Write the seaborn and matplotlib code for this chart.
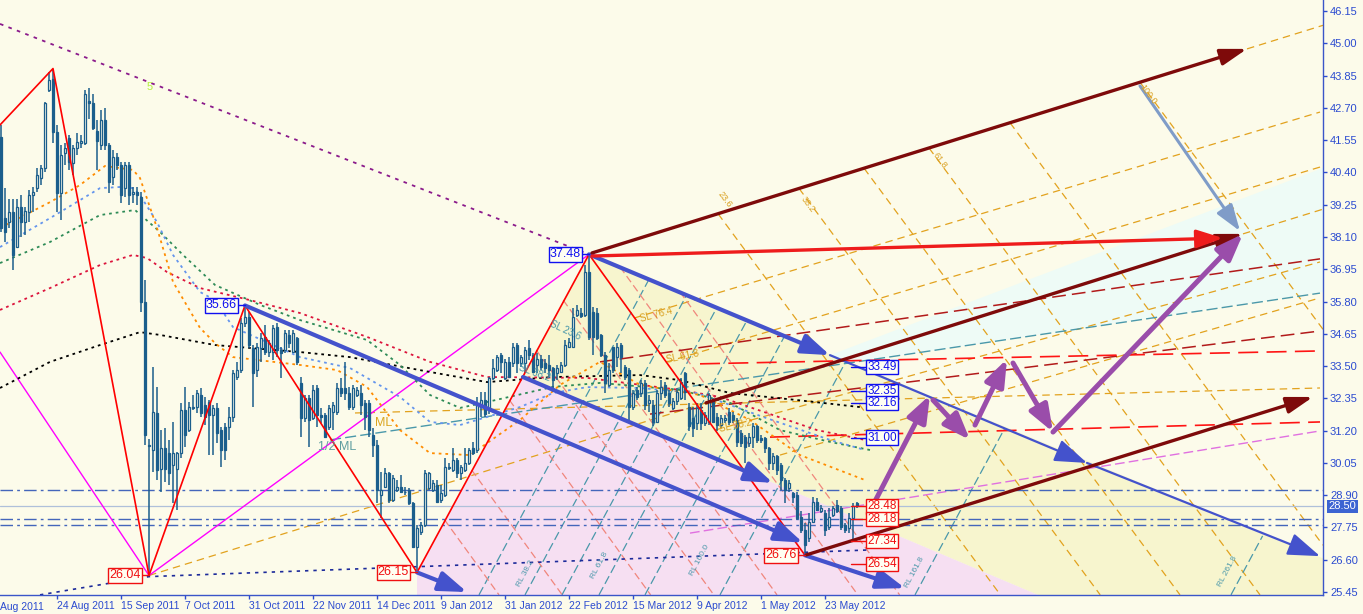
import numpy as np
import pandas as pd
import matplotlib
matplotlib.use("Agg")
import matplotlib.pyplot as plt
import seaborn as sns
from matplotlib.patches import Polygon

# ---------------- DATA (x = trading-bar index, y = price) ----------------
opens = [41.67, 38.76, 38.64, 39.00, 37.75, 39.18, 38.64, 39.00, 39.59, 39.83,
         40.19, 40.54, 43.33, 43.73, 41.85, 39.65, 41.08, 41.61, 40.72, 41.26,
         41.43, 41.43, 42.94, 42.89, 41.87, 41.37, 42.26, 41.37, 40.25, 40.96,
         40.66, 39.83, 40.66, 39.62, 39.71, 39.53, 35.79, 30.69, 30.51, 31.82,
         29.85, 30.57, 30.39, 29.97, 29.85, 30.39, 31.93, 31.22, 31.99, 32.05,
         32.47, 32.11, 32.23, 31.76,
         31.99, 31.22, 31.34, 31.34, 31.70, 33.12, 33.36, 35.02, 35.26, 34.13,
         33.36, 34.13, 34.55, 34.01, 34.01, 34.90, 34.07, 34.07, 34.61, 34.01,
         34.49, 32.88, 31.64, 32.35, 31.64, 32.71, 31.76, 31.76, 31.34, 31.87,
         31.87, 32.71, 32.71, 32.53, 32.05, 32.47, 32.53, 32.17, 32.17, 31.04,
         30.69, 28.91, 29.20, 29.68, 28.73, 29.09, 29.20, 29.03, 29.09, 28.61,
         27.07, 27.60, 27.84, 29.14,
         29.08, 29.26, 28.73, 28.91, 29.86, 29.80, 30.15, 29.68, 29.80, 30.03, 30.57, 30.51,
         32.05, 32.29, 31.93, 33.06, 33.36, 33.89, 33.06, 33.66, 33.60, 34.25,
         33.60, 33.60, 34.13, 33.89, 33.54, 33.77, 33.60, 33.54, 33.42, 33.24,
         33.30, 33.54, 34.19, 34.19, 35.32, 35.38, 35.32, 36.86, 35.44, 35.38,
         34.61, 33.89, 32.82, 34.19, 33.83, 34.25, 33.48, 33.36,
         32.06, 32.65, 32.53, 32.89, 32.20, 32.12, 31.52, 32.53, 32.83, 32.53,
         32.00, 32.24, 32.35, 33.25, 32.06, 31.64, 31.46, 31.94, 31.46, 31.52,
         32.30, 31.70, 31.40, 31.58, 31.88, 31.76, 31.58, 31.11, 30.99, 30.75,
         30.99, 31.35, 30.93, 30.93, 30.57, 30.04, 30.28, 29.98, 29.45, 29.15,
         28.97, 28.91, 28.14, 27.66, 27.37, 27.96, 28.67, 28.32, 28.26, 27.78,
         28.20, 28.55, 28.44, 27.84, 27.72, 28.08, 28.61]
highs = [42.09, 39.83, 39.47, 39.47, 39.47, 39.59, 39.18, 39.77, 39.89, 40.54,
         40.66, 42.92, 43.99, 44.10, 42.09, 41.37, 41.43, 41.73, 41.37, 41.79,
         41.73, 43.33, 43.39, 43.21, 42.26, 42.62, 42.68, 41.43, 41.20, 41.08,
         40.78, 40.78, 40.78, 39.89, 39.89, 39.71, 36.56, 30.92, 33.48, 32.77,
         31.22, 31.28, 30.86, 31.52, 30.45, 32.17, 32.77, 32.23, 32.47, 32.65,
         32.71, 32.41, 32.29, 32.11,
         32.17, 31.34, 31.46, 32.05, 33.36, 33.66, 35.20, 35.66, 35.44, 34.25,
         34.31, 34.67, 34.96, 34.43, 34.96, 35.02, 34.19, 34.79, 34.79, 34.79,
         34.55, 33.12, 32.47, 32.47, 32.83, 32.83, 31.99, 31.82, 32.11, 32.23,
         32.88, 33.06, 33.66, 32.77, 32.83, 32.77, 32.83, 32.29, 32.29, 31.28,
         30.87, 29.74, 29.86, 29.74, 29.62, 29.44, 29.62, 29.20, 29.14, 28.67,
         27.84, 27.96, 29.80, 29.74,
         29.44, 29.44, 29.26, 30.21, 30.03, 30.57, 30.21, 29.97, 30.57, 30.57, 30.81, 32.41,
         32.59, 32.59, 33.12, 33.77, 33.89, 33.95, 33.77, 33.83, 34.31, 34.31,
         33.89, 34.19, 34.43, 33.95, 33.95, 33.89, 33.77, 33.89, 33.48, 33.54,
         33.66, 34.43, 34.49, 35.56, 35.67, 35.56, 37.10, 37.48, 35.62, 35.56,
         34.66, 34.01, 33.60, 34.19, 34.31, 34.31, 33.54, 33.42,
         32.65, 32.77, 33.01, 33.01, 32.47, 32.30, 32.65, 33.01, 32.95, 32.65,
         32.35, 32.71, 33.07, 33.30, 32.18, 32.06, 32.18, 32.18, 31.88, 32.53,
         32.35, 31.82, 31.76, 31.76, 32.00, 31.88, 31.64, 31.23, 31.05, 31.11,
         31.46, 31.40, 31.05, 30.99, 30.63, 30.40, 30.34, 30.04, 29.50, 29.45,
         29.03, 29.03, 28.32, 27.90, 28.26, 28.85, 28.79, 28.55, 28.38, 28.44,
         28.50, 28.73, 28.50, 27.90, 28.26, 28.61, 28.67]
lows = [38.29, 37.93, 38.41, 36.92, 37.69, 38.11, 38.17, 38.64, 39.00, 39.71,
        39.95, 40.42, 43.27, 41.43, 39.00, 38.70, 40.66, 40.48, 40.31, 41.02,
        41.26, 41.37, 42.32, 41.91, 40.48, 41.20, 41.20, 39.65, 39.95, 40.48,
        39.30, 39.53, 39.24, 39.30, 39.24, 35.44, 30.69, 26.04, 29.74, 29.44,
        29.02, 29.38, 29.26, 28.61, 28.37, 30.21, 30.63, 31.16, 31.93, 31.82,
        31.70, 31.40, 30.33, 30.33,
        30.75, 29.92, 30.15, 30.87, 31.52, 33.00, 33.24, 34.90, 34.13, 32.05,
        33.12, 33.66, 33.89, 33.84, 33.72, 33.84, 33.06, 33.95, 34.13, 33.95,
        33.54, 30.98, 31.52, 30.63, 31.58, 31.34, 31.46, 30.93, 31.22, 31.22,
        31.76, 32.41, 32.29, 31.93, 31.93, 32.41, 31.76, 31.22, 30.98, 30.27,
        28.61, 28.08, 29.14, 28.61, 28.67, 29.03, 28.97, 28.91, 28.55, 27.01,
        26.15, 27.48, 27.78, 29.09,
        29.02, 28.61, 28.61, 28.85, 29.80, 29.74, 29.50, 29.44, 29.74, 29.97, 30.33, 30.39,
        31.70, 31.70, 31.80, 33.00, 33.30, 33.24, 33.00, 33.06, 33.48, 33.24,
        33.48, 33.24, 33.72, 33.24, 33.24, 33.36, 33.24, 33.06, 32.59, 33.00,
        33.24, 33.48, 34.13, 34.13, 35.26, 35.20, 35.26, 34.43, 33.89, 34.43,
        33.83, 32.53, 32.77, 33.24, 33.48, 33.24, 33.00, 31.58,
        31.94, 32.30, 32.41, 31.94, 31.88, 31.35, 31.46, 32.30, 32.35, 32.06,
        31.94, 32.12, 32.30, 32.30, 31.17, 30.99, 31.23, 31.23, 31.35, 31.40,
        31.46, 31.17, 31.29, 31.46, 31.40, 31.46, 30.63, 30.63, 30.04, 30.63,
        30.57, 30.75, 30.75, 30.40, 29.80, 29.80, 29.62, 29.09, 28.61, 29.03,
        28.61, 28.02, 27.55, 26.76, 27.25, 27.90, 28.32, 28.26, 27.43, 27.66,
        28.14, 28.26, 27.66, 27.55, 27.55, 27.25, 28.44]
closes = [38.41, 38.29, 39.00, 37.45, 39.18, 38.64, 39.02, 39.59, 39.71, 40.31,
          40.54, 42.86, 43.69, 41.83, 39.65, 41.02, 41.28, 40.78, 41.26, 41.49,
          41.52, 43.21, 42.89, 41.97, 41.52, 42.26, 41.37, 40.07, 40.96, 40.66,
          39.59, 40.66, 39.59, 39.71, 39.59, 35.79, 31.04, 30.66, 31.87, 29.80,
          30.57, 29.85, 29.68, 30.39, 30.39, 31.93, 31.04, 32.05, 32.05, 32.53,
          31.82, 31.70, 31.76, 31.99,
          31.10, 30.51, 30.51, 31.70, 33.24, 33.36, 35.02, 35.26, 34.25, 33.24,
          34.19, 34.49, 34.01, 34.31, 34.84, 34.07, 33.95, 34.67, 34.31, 34.67,
          33.66, 31.64, 32.35, 31.58, 32.65, 31.76, 31.70, 30.98, 31.99, 32.11,
          32.71, 32.53, 32.53, 32.05, 32.71, 32.65, 32.11, 31.70, 31.22, 30.69,
          29.09, 29.09, 29.68, 28.73, 29.50, 29.20, 29.03, 29.00, 28.61, 27.07,
          27.72, 27.84, 29.68, 29.68,
          29.32, 28.67, 28.97, 29.92, 29.92, 30.15, 29.68, 29.92, 30.03, 30.51, 30.39, 32.17,
          32.29, 31.81, 33.06, 33.42, 33.83, 33.66, 33.66, 33.12, 34.19, 33.60,
          33.83, 34.07, 33.89, 33.30, 33.77, 33.48, 33.42, 33.36, 33.00, 33.42,
          33.54, 34.25, 34.37, 35.26, 35.50, 35.28, 36.86, 34.55, 34.55, 34.49,
          33.89, 32.88, 33.36, 33.36, 34.19, 33.83, 33.12, 32.05,
          32.53, 32.41, 32.89, 32.12, 32.30, 31.52, 32.53, 32.77, 32.47, 32.18,
          32.24, 32.59, 32.95, 32.59, 31.35, 31.29, 32.00, 31.46, 31.76, 32.47,
          31.52, 31.40, 31.64, 31.64, 31.52, 31.58, 30.81, 30.75, 30.63, 30.99,
          31.35, 30.87, 30.87, 30.57, 30.04, 30.28, 29.80, 29.45, 29.09, 29.33,
          28.85, 28.08, 27.66, 27.13, 27.96, 28.67, 28.38, 28.44, 27.66, 28.14,
          28.44, 28.32, 27.78, 27.66, 28.08, 28.50, 28.50]

date_ticks = [14, 30, 46, 62, 78, 94, 110, 126, 142, 158, 174, 190, 206]
date_labels = ["24 Aug 2011", "15 Sep 2011", "7 Oct 2011", "31 Oct 2011", "22 Nov 2011",
               "14 Dec 2011", "9 Jan 2012", "31 Jan 2012", "22 Feb 2012", "15 Mar 2012",
               "9 Apr 2012", "1 May 2012", "23 May 2012"]
first_label = "Aug 2011"
price_ticks = [46.15, 45.00, 43.85, 42.70, 41.55, 40.40, 39.25, 38.10, 36.95, 35.80,
               34.65, 33.50, 32.35, 31.20, 30.05, 28.90, 27.75, 26.60, 25.45]
last_price = 28.50

# moving averages
ma_orange = [(-0.25, 38.42), (12.25, 39.34), (19.75, 39.95), (26, 40.63), (33, 40.49), (34.75, 40.20),
             (39, 38.42), (43, 36.50), (49.75, 34.86), (53.5, 34.32), (58, 33.82), (74.75, 33.54),
             (84, 33.36), (91.5, 32.76), (99.75, 31.22), (107.25, 30.40), (117.25, 30.33),
             (129.75, 31.58), (139.75, 32.83), (149.75, 33.65), (159.75, 32.83), (174.75, 32.47),
             (187.25, 31.58), (199.75, 30.33), (216, 29.44)]
ma_blue = [(-0.25, 37.74), (12.25, 38.77), (24.75, 39.84), (29.75, 39.88), (33, 39.84), (34.75, 39.59),
           (39, 38.63), (43, 37.46), (49.75, 36.14), (53.5, 35.85), (58, 34.89), (74.75, 33.82),
           (87.25, 33.43), (99.75, 32.40), (107.25, 31.51), (114.75, 31.40), (129.75, 32.04),
           (138, 32.54), (146.5, 32.75), (159.75, 32.72), (174, 32.54), (190.5, 31.69),
           (207.25, 30.87), (216, 30.51)]
ma_green = [(-0.25, 37.17), (12.25, 37.92), (24.75, 38.88), (33.5, 39.06), (39.75, 38.28), (45.5, 37.46),
            (53.5, 36.39), (64.75, 35.68), (74.75, 35.14), (91.5, 34.43), (99.75, 33.54), (107.25, 32.47),
            (114.75, 32.01), (121.5, 32.22), (138, 32.76), (149.75, 32.90), (169.75, 32.65),
            (182.25, 32.19), (194.75, 31.22), (207.25, 30.80), (217.25, 30.51)]
ma_crimson = [(-0.25, 35.50), (12.25, 36.28), (24.75, 37.10), (33, 37.46), (36.5, 37.35), (41.5, 36.85),
              (49.75, 36.28), (62.25, 35.85), (74.75, 35.39), (91.5, 34.54), (107.25, 33.65),
              (121.5, 33.11), (146.5, 33.08), (169.75, 32.65), (179.75, 32.40), (204, 31.22), (216, 30.87)]
ma_black = [(-0.25, 32.72), (12.25, 33.65), (24.75, 34.25), (34.75, 34.71), (39.75, 34.61), (53.5, 34.25),
            (74.75, 34.00), (87.25, 33.82), (107.25, 33.29), (121.5, 32.93), (138, 33.11),
            (159.75, 33.18), (169.75, 33.00), (182.25, 32.54), (199, 32.29), (214.75, 32.04)]

zigzag = [(-0.25, 42.09), (13, 44.10), (37, 26.04), (61, 35.66), (104, 26.15), (147, 37.48), (201, 26.76)]

# pitchfork geometry
fork_yellow = [(146.75, 37.49), (331, 26.62), (331, 21.02), (130.5, 33.11)]
fork_pink = [(130.5, 33.11), (331, 21.02), (104, 21.02), (104, 26.15)]
zone_cyan = [(207.25, 33.89), (330.5, 40.56), (330.5, 36.14), (207.25, 33.50)]

blue_thick = [((61, 35.66), (200.5, 27.21)), ((130.5, 33.11), (193, 29.34)),
              ((104, 26.15), (116.5, 25.45)), ((201, 26.76), (226, 25.59)),
              ((147, 37.48), (207.25, 33.89))]
blue_thin = [((207.25, 33.89), (271.5, 30.05)), ((271.5, 30.05), (329.75, 26.73))]
maroon_arrows = [((147.75, 37.53), (311.5, 44.80)), ((176.25, 32.19), (310.5, 38.21)),
                 ((201.25, 26.77), (328, 32.40))]
red_arrow = ((147.75, 37.42), (305.5, 38.06))
grey_arrow = ((284.75, 43.48), (309.75, 38.31))
purple_arrows = [((217.25, 28.34), (232.25, 32.47)), ((233, 32.29), (242.25, 30.87)),
                 ((243.5, 31.40), (251.5, 33.75)), ((253, 33.61), (263, 31.15)),
                 ((263, 31.15), (310.5, 38.21))]

orange_lines = [((37, 26.04), (176.25, 32.19)), ((310.5, 38.21), (330.5, 39.09)),
                ((311.5, 44.80), (330.5, 45.64)),
                ((158.25, 35.21), (329.75, 42.55)), ((166.25, 33.64), (329.75, 40.59)),
                ((178.5, 31.22), (329.75, 37.21)), ((194.75, 30.33), (329.75, 35.93)),
                ((88.5, 31.83), (329.75, 32.72))]
orange_diag = [((179.25, 38.93), (249.85, 25.35)), ((199.5, 39.83), (274.8, 25.35)),
               ((215.75, 40.55), (294.75, 25.35)), ((232, 41.27), (314.75, 25.35)),
               ((252.25, 42.17), (330.5, 27.12)), ((284.75, 43.61), (330.5, 34.81))]
teal_rl = [((119.5, 25.35), (162.0, 36.59)), ((131, 25.35), (171.4, 36.03)),
           ((140.25, 25.35), (178.95, 35.58)), ((149.5, 25.35), (186.5, 35.13)),
           ((161, 25.35), (195.9, 34.57)), ((179.75, 25.35), (211.2, 33.66)),
           ((228.5, 25.35), (250.95, 31.29)), ((307.5, 25.35), (315.4, 27.45))]
salmon_lines = [((140.55, 35.85), (194, 25.35)), ((133.8, 34.07), (178.2, 25.35)),
                ((127.1, 32.29), (162.4, 25.35)), ((117.65, 29.80), (140.3, 25.35)),
                ((110.9, 28.02), (124.5, 25.35)), ((154.75, 37.03), (214.2, 25.35)),
                ((169.75, 36.14), (224.65, 25.35))]
half_ml = ((82.25, 30.87), (329.75, 36.10))
darkred_dash = [((149.75, 33.65), (329.75, 37.32)), ((162.25, 31.79), (329.75, 34.75))]
red_dash = [((174.75, 33.58), (329.75, 34.04)), ((192.25, 30.97), (329.75, 31.51))]
magenta_lines = [((-0.25, 34.00), (37, 26.04)), ((37, 26.04), (147, 37.48))]
magenta_dash = ((172.25, 27.55), (329.75, 31.19))
purple_dotted = ((-0.25, 45.69), (147, 37.48))
navy_dotted = [(9.75, 25.35), (37, 26.0), (217, 26.95)]
hlines_dashdot = [29.10, 28.05, 27.84]

pivots = [("35.66", 61, 35.66, "#1010F0"), ("37.48", 147, 37.48, "#1010F0"),
          ("26.04", 37, 26.04, "#F01010"), ("26.15", 104, 26.15, "#F01010"),
          ("26.76", 201, 26.76, "#F01010")]
right_labels = [("33.49", 33.47, "#1010F0"), ("32.35", 32.60, "#1010F0"), ("32.16", 32.18, "#1010F0"),
                ("31.00", 30.95, "#1010F0"), ("28.48", 28.50, "#F01010"), ("28.18", 28.06, "#F01010"),
                ("27.34", 27.27, "#F01010"), ("26.54", 26.45, "#F01010")]

# ---------------- STYLE ----------------
BG = "#FCFBEA"
AXC = "#2B4BD0"
CANDLE = "#1B5E8C"
sns.set_theme(style="white")
plt.rcParams["font.family"] = ["Liberation Sans", "DejaVu Sans"]

fig = plt.figure(figsize=(13.63, 6.14), dpi=100, facecolor=BG)
ax = fig.add_axes([0.0, 19 / 614, 1323 / 1363, 595 / 614])
ax.set_facecolor(BG)
ax.set_xlim(-0.25, 330.5)
ax.set_ylim(25.345, 46.542)

# ---- shaded regions ----
ax.add_patch(Polygon(zone_cyan, closed=True, fc="#EEFBF6", ec="none", zorder=0.3))
ax.add_patch(Polygon(fork_yellow, closed=True, fc="#F7F5CE", ec="none", zorder=0.4))
ax.add_patch(Polygon(fork_pink, closed=True, fc="#F6DFF2", ec="none", zorder=0.5))


def seg(segs, **kw):
    for (x0, y0), (x1, y1) in segs:
        ax.plot([x0, x1], [y0, y1], **kw)


def arrow(p0, p1, color, lw, hl, hw, z=8, ms=10):
    ax.annotate("", xy=p1, xytext=p0, zorder=z,
                arrowprops=dict(arrowstyle=f"-|>,head_length={hl},head_width={hw}",
                                color=color, lw=lw, shrinkA=0, shrinkB=0, mutation_scale=ms))


# ---- thin dashed construction lines ----
seg(orange_lines, color="#E2A21E", lw=0.9, dashes=(6, 4), zorder=1)
seg(orange_diag, color="#E2A21E", lw=0.9, dashes=(6, 4), zorder=1)
seg(teal_rl, color="#4A98AA", lw=0.9, dashes=(7, 3), zorder=1)
seg(salmon_lines, color="#F0867C", lw=0.9, dashes=(6, 3), zorder=1)
seg([half_ml], color="#4A98AA", lw=1.0, dashes=(8, 3), zorder=1)
seg(darkred_dash, color="#B21A1A", lw=1.1, dashes=(9, 4), zorder=1)
seg(red_dash, color="#FF1414", lw=1.2, dashes=(12, 5), zorder=1)
seg([magenta_dash], color="#E070E0", lw=1.0, dashes=(7, 3), zorder=1)
seg(magenta_lines, color="#FF00FF", lw=1.0, zorder=2)
seg([purple_dotted], color="#8B1A8B", lw=1.3, dashes=(2, 3), zorder=2)
ax.plot([p[0] for p in navy_dotted], [p[1] for p in navy_dotted], color="#1C2A9A", lw=1.2,
        dashes=(2, 3), zorder=2)
for hv in hlines_dashdot:
    ax.axhline(hv, color="#4466BB", lw=1.0, dashes=(9, 3, 2, 3), zorder=1.5)
ax.axhline(last_price, color="#AFC0DA", lw=0.9, zorder=1.5)

# ---- moving averages (seaborn) ----
for pts, col in [(ma_black, "#000000"), (ma_crimson, "#DC143C"), (ma_green, "#2E8B57"),
                 (ma_blue, "#6495ED"), (ma_orange, "#FF8C00")]:
    df = pd.DataFrame(pts, columns=["bar", "price"])
    sns.lineplot(data=df, x="bar", y="price", ax=ax, color=col, lw=1.3,
                 linestyle=(0, (1.5, 2.2)), sort=False, zorder=3)

# ---- candles ----
o = np.array(opens); h = np.array(highs); l = np.array(lows); c = np.array(closes)
assert len(o) == len(h) == len(l) == len(c)
x = np.arange(len(o))
up = c >= o
ax.vlines(x, l, h, color=CANDLE, lw=1.1, zorder=5)
body_lo = np.minimum(o, c)
body_h = np.maximum(np.abs(c - o), 0.03)
ax.bar(x[up], body_h[up], bottom=body_lo[up], width=0.55, color=BG, edgecolor=CANDLE,
       linewidth=0.9, zorder=6)
ax.bar(x[~up], body_h[~up], bottom=body_lo[~up], width=0.55, color=CANDLE, edgecolor=CANDLE,
       linewidth=0.9, zorder=6)

# ---- zigzag ----
zz = pd.DataFrame(zigzag, columns=["bar", "price"])
sns.lineplot(data=zz, x="bar", y="price", ax=ax, color="#FF0000", lw=1.2, sort=False, zorder=7)

# ---- thick lines / arrows ----
for p0, p1 in blue_thick:
    arrow(p0, p1, "#4452CC", 3.0, 1.7, 0.6)
for p0, p1 in blue_thin:
    arrow(p0, p1, "#4452CC", 1.6, 2.0, 0.7)
for p0, p1 in maroon_arrows:
    arrow(p0, p1, "#7E0A0A", 2.4, 1.6, 0.5)
arrow(red_arrow[0], red_arrow[1], "#EE1C1C", 2.4, 1.6, 0.55)
arrow(grey_arrow[0], grey_arrow[1], "#7F9CC8", 2.2, 1.6, 0.55)
for p0, p1 in purple_arrows:
    arrow(p0, p1, "#9A4DAA", 3.6, 1.6, 0.6, z=9)

# ---- text annotations ----
ax.text(37.25, 43.44, "5", color="#B4F03C", fontsize=8, ha="center", va="center", zorder=9)
ax.text(79.25, 30.62, "1/2 ML", color="#5F9EA0", fontsize=9, ha="left", va="center", zorder=9)
ax.text(93.5, 31.47, "ML", color="#DAA520", fontsize=9, ha="left", va="center", zorder=9)
for txt, xx, yy, rot, col in [("SL 76.4", 163.75, 35.32, 15, "#D9A020"), ("SL 61.8", 170.5, 33.83, 12, "#D9A020"),
                              ("SL 38.2", 183.75, 31.37, 12, "#D9A020"), ("SL 23.6", 141, 34.79, -25, "#4A98AA"),
                              ("SL 38.2", 133.5, 33.25, -20, "#4A98AA")]:
    ax.text(xx, yy, txt, color=col, fontsize=7, rotation=rot, ha="center", va="center", zorder=9)
for txt, xx, yy in [("23.6", 181, 39.42), ("38.2", 201.75, 39.24), ("61.8", 234.75, 40.84),
                    ("100.0", 286.75, 43.16)]:
    ax.text(xx, yy, txt, color="#D9A020", fontsize=6.5, rotation=-53, ha="center", va="center", zorder=9)
for txt, xx, yy in [("RL 38.2", 131, 26.1), ("RL 61.8", 149.75, 26.41), ("RL 100.0", 174.75, 26.6),
                    ("RL 161.8", 228.5, 26.17), ("RL 261.8", 306.75, 26.17)]:
    ax.text(xx, yy, txt, color="#4A98AA", fontsize=6, rotation=62, ha="center", va="center", zorder=9)

box = dict(boxstyle="square,pad=0.1", fc="#FFFFF2", lw=1.0)
for txt, bx, by, col in pivots:
    ax.plot([bx - 2.0, bx], [by, by], color=col, lw=1.0, zorder=9)
    ax.text(bx - 2.0, by, txt, color=col, fontsize=9, ha="right", va="center", zorder=10,
            bbox=dict(box, ec=col))
for txt, yy, col in right_labels:
    ax.plot([212.5, 216.5], [yy, yy], color=col, lw=1.0, zorder=9)
    ax.text(216.6, yy, txt, color=col, fontsize=8.5, ha="left", va="center", zorder=10,
            bbox=dict(box, ec=col))

# ---- axes styling ----
for s in ["left", "top"]:
    ax.spines[s].set_visible(False)
for s in ["right", "bottom"]:
    ax.spines[s].set_color("#3A55C8")
    ax.spines[s].set_linewidth(1.0)
ax.yaxis.tick_right()
ax.set_yticks(price_ticks)
ax.set_yticklabels([f"{v:.2f}" for v in price_ticks])
ax.set_xticks(date_ticks)
ax.set_xticklabels(date_labels, ha="left")
ax.tick_params(axis="y", colors=AXC, labelsize=8, length=3, width=1, pad=2, right=True, left=False)
ax.tick_params(axis="x", colors=AXC, labelsize=7.5, length=3, width=1, pad=1.5, bottom=True)
ax.set_xlabel("")
ax.set_ylabel("")
ax.text(0.0, -0.0115, first_label, transform=ax.transAxes, ha="left", va="top",
        color=AXC, fontsize=7.5, clip_on=False)
ax.text(1.004, last_price, f"{last_price:.2f}", transform=ax.get_yaxis_transform(), ha="left",
        va="center", color="white", fontsize=8, zorder=12, clip_on=False,
        bbox=dict(boxstyle="square,pad=0.15", fc="#3C64D2", ec="none"))

fig.savefig("out.png", dpi=100, facecolor=BG)
